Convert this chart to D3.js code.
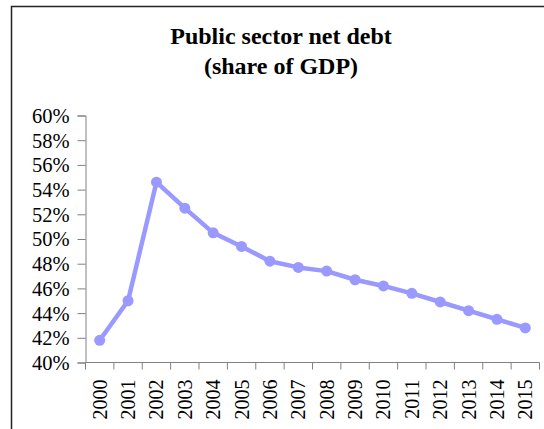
<!DOCTYPE html>
<html><head><meta charset="utf-8">
<script src="https://cdn.jsdelivr.net/npm/d3@7"></script>
<style>body{margin:0;background:#fff}svg{display:block}
svg text{font-family:"Liberation Serif","DejaVu Serif","Times New Roman",serif;}
</style>
</head><body>
<script>
const years = ["2000","2001","2002","2003","2004","2005","2006","2007","2008","2009","2010","2011","2012","2013","2014","2015"];
const debtShare = [41.8,45.0,54.6,52.5,50.5,49.4,48.2,47.7,47.4,46.7,46.2,45.6,44.9,44.2,43.5,42.8];
const yTicks = [40,42,44,46,48,50,52,54,56,58,60];
const titleLines = ["Public sector net debt","(share of GDP)"];

const W=544,H=429;
const svg=d3.select("body").append("svg").attr("width",W).attr("height",H);
svg.append("rect").attr("width",W).attr("height",H).attr("fill","#fff");
// outer frame (cropped)
svg.append("path").attr("d",`M11.5,${H+2}V6.5H${W+2}`).attr("fill","none").attr("stroke","#222").attr("stroke-width",1.5);

const x=d3.scaleBand().domain(years).range([85.5,539.5]);
const y=d3.scaleLinear().domain([40,60]).range([362.5,115.5]);

svg.append("g").selectAll("text").data(titleLines).join("text")
  .attr("x",281).attr("y",(d,i)=>44+i*30).attr("text-anchor","middle")
  .attr("font-weight","bold").attr("font-size",24).text(d=>d);

const yAxis=d3.axisLeft(y).tickValues(yTicks).tickFormat(d=>d+"%").tickSize(8).tickPadding(8);
const gy=svg.append("g").attr("transform","translate(85.5,0)").call(yAxis);
gy.attr("font-family",null);
gy.selectAll("path,line").attr("stroke","#808080");
gy.selectAll("text").attr("font-size",20.5).attr("fill","#000").attr("dy","0.34em");

// x axis with ticks between categories
const gx=svg.append("g").attr("transform","translate(0,362.5)");
gx.append("line").attr("x1",85.5).attr("x2",539.5).attr("stroke","#808080");
const bounds=years.map(d=>x(d)).concat([x.range()[1]]);
gx.selectAll("line.t").data(bounds).join("line").attr("class","t")
  .attr("x1",d=>d).attr("x2",d=>d).attr("y1",0).attr("y2",7).attr("stroke","#808080");
gx.selectAll("text").data(years).join("text")
  .attr("transform",d=>`translate(${x(d)+x.bandwidth()/2+7},17) rotate(-90)`)
  .attr("text-anchor","end").attr("font-size",20).text(d=>d);

const cx=(d,i)=>x(years[i])+x.bandwidth()/2;
const line=d3.line().x((d,i)=>cx(d,i)).y(d=>y(d));
svg.append("path").datum(debtShare).attr("d",line).attr("fill","none")
  .attr("stroke","#9999FF").attr("stroke-width",4.5).attr("stroke-linejoin","round");
svg.append("g").selectAll("circle").data(debtShare).join("circle")
  .attr("cx",cx).attr("cy",d=>y(d)).attr("r",5.5).attr("fill","#9999FF");
</script>
</body></html>
